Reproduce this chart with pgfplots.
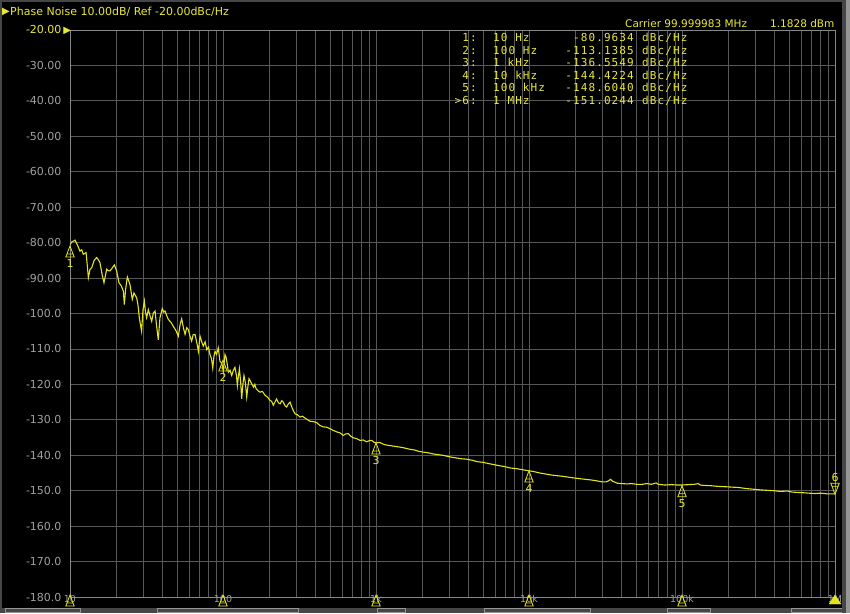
\documentclass[border=0pt]{standalone}
\usepackage{pgfplots}
\pgfplotsset{compat=1.18}
\usepackage{fontspec}
\setmainfont{DejaVu Sans}
\newfontfamily\tblfont[LetterSpace=10]{DejaVu Sans Mono}
\definecolor{tr}{RGB}{228,228,30}
\definecolor{ty}{RGB}{232,232,60}
\definecolor{gridc}{RGB}{88,88,88}
\definecolor{axc}{RGB}{135,135,135}
\definecolor{lbl}{RGB}{160,160,160}
\definecolor{fr1}{RGB}{70,70,70}
\definecolor{fr2}{RGB}{150,150,150}
\pgfdeclareplotmark{mkup}{%
  \pgfpathmoveto{\pgfpoint{0pt}{0pt}}\pgfpathlineto{\pgfpoint{-4.2pt}{-11pt}}%
  \pgfpathlineto{\pgfpoint{4.2pt}{-11pt}}\pgfpathclose
  \pgfpathmoveto{\pgfpoint{-3pt}{-8pt}}\pgfpathlineto{\pgfpoint{3pt}{-8pt}}%
  \pgfusepathqstroke}
\pgfdeclareplotmark{mkdown}{%
  \pgfpathmoveto{\pgfpoint{0pt}{0pt}}\pgfpathlineto{\pgfpoint{-4.2pt}{11pt}}%
  \pgfpathlineto{\pgfpoint{4.2pt}{11pt}}\pgfpathclose
  \pgfpathmoveto{\pgfpoint{-3pt}{8pt}}\pgfpathlineto{\pgfpoint{3pt}{8pt}}%
  \pgfusepathqstroke}
\pgfdeclareplotmark{mkupfill}{%
  \pgfpathmoveto{\pgfpoint{0pt}{0pt}}\pgfpathlineto{\pgfpoint{-6pt}{-9pt}}%
  \pgfpathlineto{\pgfpoint{6pt}{-9pt}}\pgfpathclose
  \pgfusepathqfillstroke}
\pgfplotstableread{
lf db
1.000 -80.5
1.012 -79.8
1.033 -79.3
1.048 -80.6
1.065 -82.4
1.076 -82.0
1.087 -83.3
1.105 -82.8
1.112 -86.0
1.120 -89.9
1.131 -87.5
1.142 -87.1
1.158 -85.0
1.174 -84.2
1.185 -84.8
1.196 -85.7
1.210 -89.0
1.222 -91.3
1.240 -87.5
1.250 -87.9
1.261 -88.0
1.275 -87.2
1.290 -86.3
1.305 -88.0
1.320 -91.3
1.335 -92.2
1.349 -93.7
1.355 -97.5
1.364 -93.0
1.375 -89.7
1.392 -91.8
1.407 -96.0
1.418 -94.2
1.436 -95.6
1.445 -97.8
1.453 -101.2
1.468 -105.0
1.477 -99.0
1.486 -96.5
1.493 -99.5
1.501 -101.2
1.512 -98.9
1.522 -100.5
1.534 -102.2
1.545 -99.8
1.556 -99.3
1.566 -103.5
1.577 -107.4
1.588 -101.2
1.603 -98.6
1.613 -99.6
1.621 -99.3
1.632 -100.6
1.643 -101.7
1.660 -102.5
1.675 -103.6
1.692 -104.8
1.708 -106.4
1.720 -103.0
1.730 -101.5
1.742 -104.2
1.752 -105.9
1.763 -104.0
1.773 -104.5
1.785 -106.5
1.795 -107.8
1.805 -106.0
1.817 -105.9
1.828 -108.0
1.839 -110.7
1.850 -106.4
1.861 -108.0
1.871 -109.2
1.883 -108.0
1.894 -110.2
1.905 -109.5
1.915 -111.6
1.925 -112.8
1.933 -115.4
1.941 -112.0
1.948 -110.7
1.958 -111.5
1.969 -109.7
1.980 -113.5
1.992 -114.0
2.002 -116.3
2.013 -111.6
2.020 -112.3
2.028 -114.4
2.035 -116.6
2.046 -116.0
2.057 -117.5
2.068 -116.0
2.078 -115.2
2.088 -117.5
2.094 -120.3
2.100 -118.0
2.107 -115.6
2.115 -119.0
2.122 -124.1
2.130 -120.0
2.137 -117.5
2.146 -119.5
2.155 -123.6
2.163 -120.5
2.170 -118.4
2.178 -119.0
2.187 -119.8
2.200 -120.8
2.208 -120.0
2.216 -121.2
2.229 -121.8
2.242 -122.2
2.258 -122.0
2.275 -123.1
2.291 -123.6
2.307 -124.5
2.318 -124.8
2.329 -125.9
2.350 -124.1
2.362 -125.2
2.373 -125.5
2.384 -124.6
2.394 -125.0
2.405 -126.0
2.416 -126.4
2.427 -125.5
2.438 -125.0
2.455 -127.0
2.471 -128.3
2.487 -128.6
2.503 -129.2
2.520 -129.0
2.536 -129.5
2.553 -130.0
2.569 -130.4
2.590 -130.5
2.612 -130.8
2.634 -131.6
2.656 -132.0
2.678 -132.1
2.699 -132.5
2.721 -133.0
2.743 -133.4
2.765 -133.7
2.786 -134.4
2.800 -134.0
2.819 -133.9
2.835 -134.6
2.852 -135.1
2.874 -135.3
2.895 -135.8
2.917 -135.7
2.939 -136.2
2.955 -135.9
2.972 -135.8
2.986 -136.3
3.000 -136.5
3.025 -136.4
3.054 -137.0
3.080 -137.2
3.110 -137.4
3.140 -137.6
3.170 -137.8
3.191 -138.0
3.220 -138.3
3.250 -138.5
3.280 -138.9
3.306 -139.1
3.340 -139.3
3.370 -139.6
3.400 -139.8
3.435 -140.0
3.467 -140.3
3.500 -140.6
3.530 -140.8
3.560 -141.0
3.590 -141.1
3.627 -141.4
3.660 -141.8
3.700 -142.0
3.730 -142.3
3.765 -142.6
3.800 -142.9
3.840 -143.2
3.879 -143.6
3.920 -143.8
3.960 -144.1
4.001 -144.4
4.030 -144.6
4.070 -145.0
4.109 -145.3
4.150 -145.6
4.190 -145.8
4.230 -146.0
4.260 -146.2
4.292 -146.4
4.330 -146.6
4.370 -146.8
4.410 -147.0
4.440 -147.2
4.476 -147.5
4.505 -147.5
4.520 -147.2
4.533 -146.8
4.545 -147.3
4.578 -147.9
4.610 -148.0
4.640 -148.1
4.670 -148.0
4.705 -148.2
4.740 -148.2
4.770 -148.0
4.800 -148.2
4.831 -147.8
4.845 -148.2
4.888 -148.4
4.930 -148.3
4.970 -148.4
4.999 -148.4
5.040 -148.3
5.080 -148.2
5.106 -148.0
5.120 -148.4
5.141 -148.5
5.190 -148.6
5.240 -148.8
5.290 -148.9
5.330 -149.0
5.370 -149.1
5.420 -149.4
5.470 -149.6
5.520 -149.8
5.560 -149.9
5.599 -150.0
5.640 -150.2
5.691 -150.1
5.720 -150.4
5.760 -150.5
5.800 -150.6
5.829 -150.7
5.870 -150.8
5.910 -150.7
5.950 -150.9
5.980 -150.9
6.000 -150.9
}\trace
\begin{document}
\begin{tikzpicture}[x=1pt,y=1pt]
\useasboundingbox (0,0) rectangle (850,613);
\fill[black] (0,0) rectangle (850,613);
\begin{axis}[
  at={(70pt,16pt)}, anchor=south west,
  scale only axis, width=765pt, height=567pt,
  xmin=1, xmax=6, ymin=-180, ymax=-20,
  clip=false,
  axis background/.style={fill=black},
  axis line style={draw=axc, line width=0.8pt},
  xtick={1,2,3,4,5,6},
  xticklabels={10,100,1k,10k,100k,1M},
  minor xtick={1.301,1.477,1.602,1.699,1.778,1.845,1.903,1.954,
               2.301,2.477,2.602,2.699,2.778,2.845,2.903,2.954,
               3.301,3.477,3.602,3.699,3.778,3.845,3.903,3.954,
               4.301,4.477,4.602,4.699,4.778,4.845,4.903,4.954,
               5.301,5.477,5.602,5.699,5.778,5.845,5.903,5.954},
  ytick={-180,-170,...,-20},
  yticklabels={-180.0,-170.0,-160.0,-150.0,-140.0,-130.0,-120.0,-110.0,-100.0,
               -90.00,-80.00,-70.00,-60.00,-50.00,-40.00,-30.00,
               {\textcolor{ty}{-20.00}\rlap{\hspace{2pt}\textcolor{ty}{\fontsize{10}{10}\selectfont ▶}}}},
  major tick length=0pt, minor tick length=0pt,
  grid=both,
  major grid style={draw=gridc, line width=0.8pt},
  minor grid style={draw=gridc, line width=0.8pt},
  yticklabel style={font=\fontsize{11}{12}\selectfont, text=lbl, xshift=-5pt},
  xticklabel style={font=\fontsize{9.5}{10}\selectfont, text=lbl, yshift=5pt},
]
\addplot[tr, line width=1.1pt] table[x=lf, y=db] {\trace};
% markers on trace
\addplot[only marks, mark=mkup, mark options={draw=tr, line width=0.8pt},
  point meta=explicit symbolic, nodes near coords,
  every node near coord/.style={anchor=north, yshift=-10pt, text=ty, font=\fontsize{11}{12}\selectfont}]
  coordinates {(1,-80.96)[1] (2,-113.14)[2] (3,-136.55)[3] (4,-144.42)[4] (5,-148.60)[5]};
\addplot[only marks, mark=mkdown, mark options={draw=tr, line width=0.8pt},
  point meta=explicit symbolic, nodes near coords,
  every node near coord/.style={anchor=south, yshift=9pt, text=ty, font=\fontsize{11}{12}\selectfont}]
  coordinates {(6,-151.02)[6]};
% markers on frequency axis
\addplot[only marks, mark=mkup, mark options={draw=tr, line width=0.8pt, yshift=2pt}]
  coordinates {(1,-180) (2,-180) (3,-180) (4,-180) (5,-180)};
\addplot[only marks, mark=mkupfill, mark options={draw=tr, fill=tr, yshift=2pt}]
  coordinates {(6,-180)};
\end{axis}
% title and readouts
\node[anchor=base west, inner sep=0, text=ty, font=\fontsize{10}{10}\selectfont] at (2,598) {▶};
\node[anchor=base west, inner sep=0, text=ty, font=\fontsize{11}{12}\selectfont] at (10,597) {Phase Noise 10.00dB/ Ref -20.00dBc/Hz};
\node[anchor=base west, inner sep=0, text=ty, font=\fontsize{10.5}{12}\selectfont] at (625,585.5) {Carrier 99.999983 MHz};
\node[anchor=base west, inner sep=0, text=ty, font=\fontsize{10.5}{12}\selectfont] at (770,585.5) {1.1828 dBm};
\begin{scope}[every node/.style={inner sep=0, text=ty, font=\tblfont\fontsize{11}{12}\selectfont}]
\foreach \i/\f/\v [count=\k from 0] in {1:/10 Hz/-80.9634, 2:/100 Hz/-113.1385, 3:/1 kHz/-136.5549, 4:/10 kHz/-144.4224, 5:/100 kHz/-148.6040, >6:/1 MHz/-151.0244}{
  \node[anchor=base east] at (477,571-12.5*\k) {\i};
  \node[anchor=base west] at (493,571-12.5*\k) {\f};
  \node[anchor=base east] at (634,571-12.5*\k) {\v};
  \node[anchor=base west] at (642,571-12.5*\k) {dBc/Hz};
}
\end{scope}
% window frame
\fill[fr1] (0,0) rectangle (850,5);
\foreach \a/\b in {5/80,157/298,377/405,484/590,667/710,791/843}{
  \draw[fr2, line width=0.8pt] (\a,0.5) rectangle (\b,4.5);
}
\fill[fr1] (0,0) rectangle (2,613);
\fill[fr1] (0,611) rectangle (850,613);
\fill[fr1] (842,0) rectangle (846,613);
\fill[fr2] (846,0) rectangle (850,613);
\end{tikzpicture}
\end{document}
